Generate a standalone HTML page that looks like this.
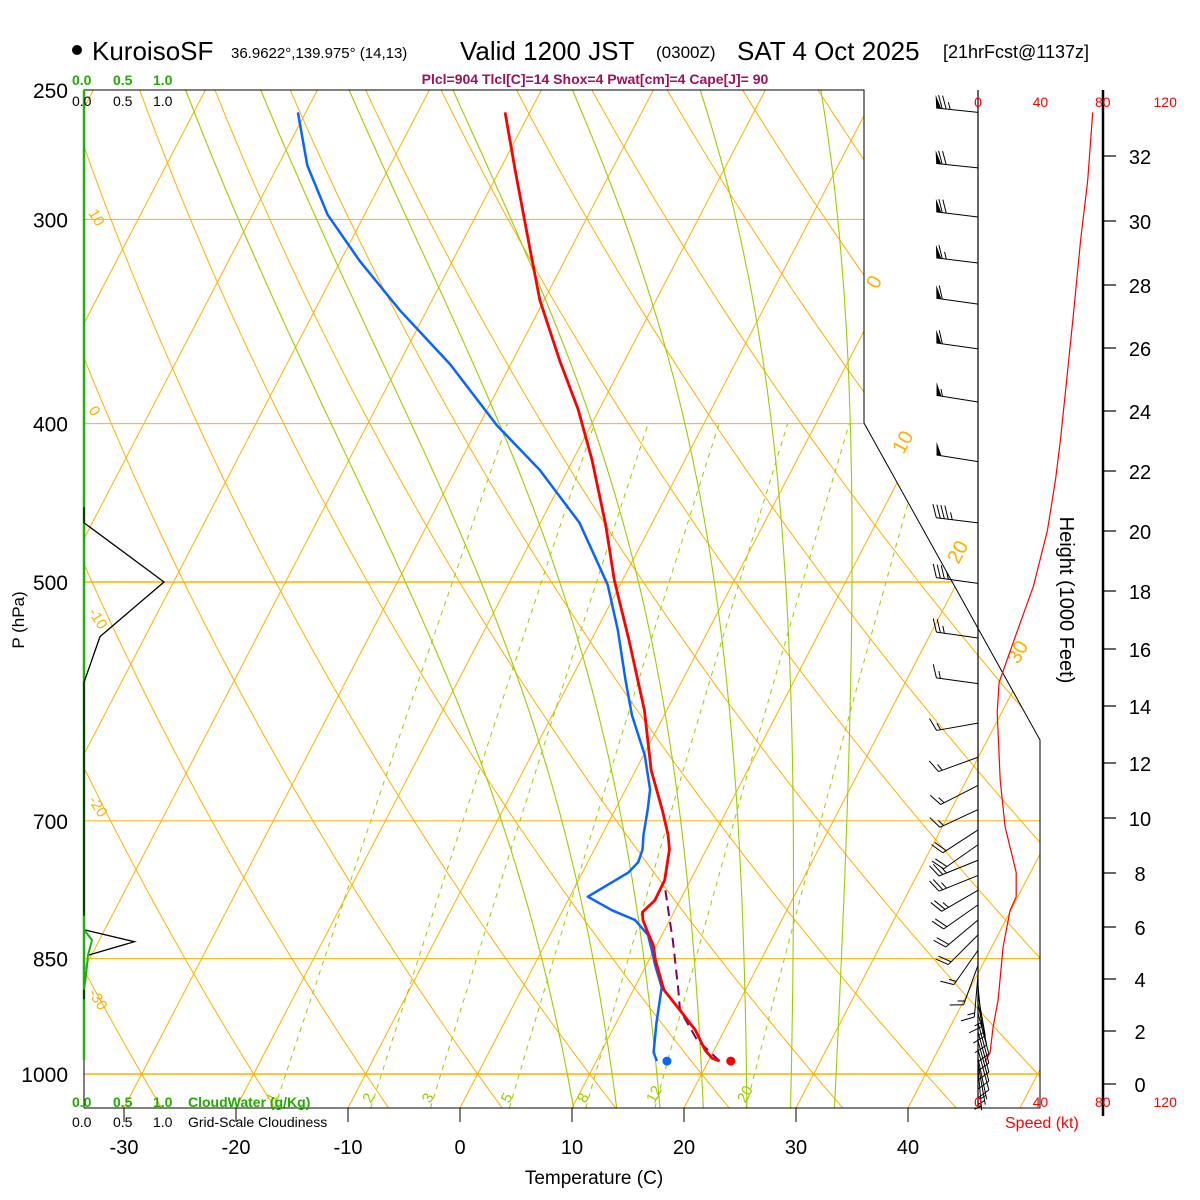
<!DOCTYPE html>
<html><head><meta charset="utf-8">
<style>
html,body{margin:0;padding:0;background:#fff;}
svg{display:block;font-family:"Liberation Sans",sans-serif;}
</style></head>
<body>
<svg id="chart" width="1200" height="1200" viewBox="0 0 1200 1200" xmlns="http://www.w3.org/2000/svg">
<defs>
<clipPath id="plotclip"><polygon points="84,90 864,90 864,423 1040,740 1040,1108 84,1108"/></clipPath>
</defs>
<g id="grid" clip-path="url(#plotclip)"></g>
<g id="gridlabels"></g>
<g id="frame">
<polyline points="84,1108 84,90 864,90 864,423 1040,740 1040,1108 84,1108" fill="none" stroke="#000" stroke-width="1"/>
<line x1="84" y1="90" x2="84" y2="1060" stroke="#22b010" stroke-width="2.5"/>
<line x1="978" y1="90" x2="978" y2="1108" stroke="#000" stroke-width="1.2"/>
<line x1="1103" y1="90" x2="1103" y2="1116" stroke="#000" stroke-width="2.5"/>
</g>
<g id="data"></g>
<g id="winds"></g>
<g id="axes"></g>
<g id="texts">
<circle cx="77" cy="50" r="5" fill="#000"/>
<text x="92" y="60" font-size="26">KuroisoSF</text>
<text x="231" y="58" font-size="15">36.9622°,139.975° (14,13)</text>
<text x="460" y="60" font-size="26">Valid 1200 JST</text>
<text x="656" y="58" font-size="17">(0300Z)</text>
<text x="737" y="60" font-size="26">SAT 4 Oct 2025</text>
<text x="943" y="58" font-size="18">[21hrFcst@1137z]</text>
<text x="595" y="84" font-size="14" font-weight="bold" fill="#a0105a" text-anchor="middle">Plcl=904 Tlcl[C]=14 Shox=4 Pwat[cm]=4 Cape[J]= 90</text>
<g font-size="14" font-weight="bold" fill="#22aa00">
<text x="72" y="85">0.0</text><text x="113" y="85">0.5</text><text x="153" y="85">1.0</text></g>
<g font-size="14" fill="#000">
<text x="72" y="106">0.0</text><text x="113" y="106">0.5</text><text x="153" y="106">1.0</text></g>
<g font-size="14" font-weight="bold" fill="#22aa00">
<text x="72" y="1107">0.0</text><text x="113" y="1107">0.5</text><text x="153" y="1107">1.0</text><text x="188" y="1107">CloudWater (g/Kg)</text></g>
<g font-size="14" fill="#000">
<text x="72" y="1127">0.0</text><text x="113" y="1127">0.5</text><text x="153" y="1127">1.0</text><text x="188" y="1127">Grid-Scale Cloudiness</text></g>
<text x="594" y="1184" font-size="19" text-anchor="middle">Temperature (C)</text>
<text transform="translate(24,620) rotate(-90)" font-size="17" text-anchor="middle">P (hPa)</text>
<text transform="translate(1060,600) rotate(90)" font-size="20" text-anchor="middle">Height (1000 Feet)</text>
<text x="1005" y="1128" font-size="16" fill="#f00">Speed (kt)</text>
</g>
</svg>
<script>
// ---- data ----
const tempP = [258,280,313,336,366,392,421,461,499,543,599,625,652,689,714,729,761,783,796,805,819,834,852,888,914,940,967,978,982];
const tempT = [-42.2,-38.6,-33.6,-30.4,-25.8,-21.9,-18.3,-14.1,-10.7,-6.6,-2.0,-0.3,1.4,4.2,5.9,6.7,7.7,7.75,7.2,7.6,8.6,9.7,10.6,12.7,15.1,17.4,19.2,20.2,21.0];
const dewP = [258,278,298,318,341,368,401,427,460,502,535,574,603,638,670,689,714,729,742,753,779,794,805,822,840,858,885,931,970,982];
const dewT = [-60.7,-57.4,-53.3,-48.3,-42.4,-35.4,-28.4,-22.5,-16.5,-11.1,-8.1,-5.1,-2.9,0.1,2.2,2.9,3.7,4.3,4.5,4.1,1.6,4.4,6.9,8.75,9.8,10.8,12.4,13.6,14.7,15.4];
const parcelP = [982,953,914,888,828,805,766];
const parcelT = [21.0,18.0,15.1,14.0,11.2,10.0,7.9];
const sfcP = 982, sfcT = 22.0, sfcTd = 16.3;
const speedP = [258,284,309,342,372,409,433,465,503,540,576,601,661,706,740,753,779,794,836,901,936,971,983];
const speedKt = [73.5,70.3,65.8,61.3,57.4,52.9,49.7,44.5,35.5,23.9,13.5,12.3,14.2,17.4,22.6,24.5,24.5,20.6,16.1,12.9,9.7,7.7,4.5];
const barbP = [258,279,299,319,338,360,388,422,460,501,541,577,610,640,666,689,709,724,740,756,772,788,805,822,840,858,870,882,894,906,918,930,942,954,966,978,985,992];
const barbDir = [276,276,277,277,278,278,279,279,277,278,278,278,260,250,243,245,237,235,248,248,240,235,230,225,215,200,185,175,170,168,165,165,165,165,165,168,170,175];
const cloudP = [450,460,500,540,576,600,800,816,830,846,888,900];
const cloudF = [0,0,1.0,0.2,0,0,0,0,0.63,0.05,0,0];
const cwP = [800,816,828,846,875,888];
const cwV = [0,0,0.1,0.05,0.02,0];
const tempTicks = [-30,-20,-10,0,10,20,30,40];
const presTicks = [250,300,400,500,700,850,1000];
const heightTicks = [0,2,4,6,8,10,12,14,16,18,20,22,24,26,28,30,32];
const speedTicks = [0,40,80,120];
const mixRatios = [1,2,3,5,8,12,20];
const thetaW = [8,12,16,20,24,28,32];
const thetaD = [-40,-30,-20,-10,0,10,20,30,40,50,60,70,80,90,100,110,120,130,140,150];

// ---- axes functions ----
const NS = "http://www.w3.org/2000/svg";
const Y = p => 1074 - 709.8*Math.log(1000/p);
const X = (T, y) => 460 + 11.2*T + 0.52*(1108 - y);
const XT = (T, p) => X(T, Y(p));
const SX = kt => 978 + 1.56*kt;
const CX = f => 84 + 80*f;
function mk(tag, attrs, parent){ const e=document.createElementNS(NS,tag); for(const k in attrs) e.setAttribute(k,attrs[k]); parent.appendChild(e); return e; }
const grid=document.getElementById('grid'), gl=document.getElementById('gridlabels'), data=document.getElementById('data'), winds=document.getElementById('winds'), axes=document.getElementById('axes');
const pts = (ps, ts) => ps.map((p,i)=>XT(ts[i],p).toFixed(1)+','+Y(p).toFixed(1)).join(' ');

// isobars
presTicks.forEach(p=>{
  const l=mk('line',{x1:84,x2:1100,y1:Y(p),y2:Y(p),stroke:'#ffb000','stroke-width':(p==500||p==1000)?1.4:1},grid);
  
  
});
// isotherms
for(let T=-120;T<=60;T+=10){
  const l=mk('line',{x1:X(T,1108),y1:1108,x2:X(T,90),y2:90,stroke:'#ffb000','stroke-width':1},grid);
  
  
}
// dry adiabats
const plist=[]; for(let p=1050;p>=250;p-=10) plist.push(p);
thetaD.forEach(th=>{
  const s=plist.map(p=>{const T=(th+273.15)*Math.pow(p/1000,0.2857)-273.15;return XT(T,p).toFixed(1)+','+Y(p).toFixed(1);}).join(' ');
  const l=mk('polyline',{points:s,fill:'none',stroke:'#ffb000','stroke-width':1},grid);
  
  
});
// moist adiabats
function dTdp(T,p){const Tc=T-273.15;const es=6.112*Math.exp(17.67*Tc/(Tc+243.5));const rs=0.622*es/(p-es);
  return (287*T+2.5e6*rs)/(1004+2.5e6*2.5e6*rs*0.622/(287*T*T))/p;}
thetaW.forEach(tw=>{
  const up=[]; let T=tw+273.15;
  for(let p=1000;p>=250;p-=5){up.push([p,T]); const k1=dTdp(T,p); const k2=dTdp(T-5*k1,p-5); T-=2.5*(k1+k2);}
  const dn=[]; T=tw+273.15;
  for(let p=1000;p<=1050;p+=5){dn.unshift([p,T]); const k1=dTdp(T,p); const k2=dTdp(T+5*k1,p+5); T+=2.5*(k1+k2);}
  const all=dn.concat(up.slice(1));
  const s=all.map(([p,T])=>XT(T-273.15,p).toFixed(1)+','+Y(p).toFixed(1)).join(' ');
  const l=mk('polyline',{points:s,fill:'none',stroke:'#9ccc00','stroke-width':1.1},grid);
  
  
});
// mixing ratio lines
const tdOf=(w,p)=>{const e=w/1000*p/(0.622+w/1000);const a=Math.log(e/6.112);return 243.5*a/(17.67-a);};
mixRatios.forEach(w=>{
  const ps=[]; for(let p=1049;p>=400;p-=10) ps.push(p); ps.push(400);
  const s=ps.map(p=>XT(tdOf(w,p),p).toFixed(1)+','+Y(p).toFixed(1)).join(' ');
  const l=mk('polyline',{points:s,fill:'none',stroke:'#9ccc00','stroke-width':1,'stroke-dasharray':'5,5'},grid);
  
  
  const p0=1040, x0=XT(tdOf(w,p0),p0), y0=Y(p0);
  const t=mk('text',{x:x0-2,y:y0+2,'font-size':15,fill:'#9ccc00',transform:`rotate(-62 ${x0-2} ${y0+2})`},gl);
  t.textContent=String(w);
  
  
});
// isotherm labels (right) and dry adiabat labels (left)
[[0,290],[10,455],[20,565],[30,665]].forEach(([T,y])=>{
  const x=X(T,y)-8;
  const t=mk('text',{x:x,y:y,'font-size':20,fill:'#ffb000',transform:`rotate(-62 ${x} ${y})`},gl);
  t.textContent=String(T);
  
  
});
[[10,213],[0,410],[-10,612],[-20,800],[-30,993]].forEach(([th,y])=>{
  const t=mk('text',{x:88,y:y,'font-size':15,fill:'#ffb000',transform:`rotate(58 88 ${y})`},gl);
  t.textContent=String(th);
  
  
});

// cloud panel
const cl=mk('polyline',{points:cloudP.map((p,i)=>CX(cloudF[i])+','+Y(p).toFixed(1)).join(' '),fill:'none',stroke:'#000','stroke-width':1.3},data);


const cw=mk('polyline',{points:cwP.map((p,i)=>CX(cwV[i])+','+Y(p).toFixed(1)).join(' '),fill:'none',stroke:'#22b010','stroke-width':2},data);



// profiles
const pc=mk('polyline',{points:pts(parcelP,parcelT),fill:'none',stroke:'#800060','stroke-width':2,'stroke-dasharray':'10,6'},data);


const dw=mk('polyline',{points:pts(dewP,dewT),fill:'none',stroke:'#0a64ff','stroke-width':2.5,'stroke-linejoin':'round'},data);


const tl=mk('polyline',{points:pts(tempP,tempT),fill:'none',stroke:'#f00','stroke-width':2.8,'stroke-linejoin':'round'},data);


const d1=mk('circle',{cx:XT(sfcT,sfcP),cy:Y(sfcP),r:4.5,fill:'#f00'},data);


const d2=mk('circle',{cx:XT(sfcTd,sfcP),cy:Y(sfcP),r:4.5,fill:'#0a64ff'},data);


const sp=mk('polyline',{points:speedP.map((p,i)=>SX(speedKt[i]).toFixed(1)+','+Y(p).toFixed(1)).join(' '),fill:'none',stroke:'#f00','stroke-width':1.2},data);



// wind barbs
function interpSpeed(p){for(let i=0;i<speedP.length-1;i++){if(p>=speedP[i]&&p<=speedP[i+1]){const f=(p-speedP[i])/(speedP[i+1]-speedP[i]);return speedKt[i]+f*(speedKt[i+1]-speedKt[i]);}} return p<speedP[0]?speedKt[0]:speedKt[speedKt.length-1];}
barbP.forEach((p,i)=>{
  const g=mk('g',{},winds);
  
  
  const d=barbDir[i]*Math.PI/180, vx=Math.sin(d), vy=-Math.cos(d), px=-vy, py=vx;
  const bx=978, by=Y(p), L=42;
  const ex=bx+vx*L, ey=by+vy*L;
  mk('line',{x1:bx,y1:by,x2:ex,y2:ey,stroke:'#000','stroke-width':1},g);
  let s=Math.round(interpSpeed(p)/5)*5; let pos=0;
  while(s>=50){const ax=ex-vx*pos, ay=ey-vy*pos;
    mk('polygon',{points:`${ax},${ay} ${ax+px*13+vx*2},${ay+py*13+vy*2} ${ax-vx*5},${ay-vy*5}`,fill:'#000'},g); pos+=6; s-=50;}
  while(s>=10){const ax=ex-vx*pos, ay=ey-vy*pos;
    mk('line',{x1:ax,y1:ay,x2:ax+px*13+vx*5,y2:ay+py*13+vy*5,stroke:'#000','stroke-width':1},g); pos+=4; s-=10;}
  if(s>=5){if(pos==0)pos=4; const ax=ex-vx*pos, ay=ey-vy*pos;
    mk('line',{x1:ax,y1:ay,x2:ax+px*7+vx*2.5,y2:ay+py*7+vy*2.5,stroke:'#000','stroke-width':1},g);}
});

// axes ticks & labels
tempTicks.forEach(T=>{
  const x=460+11.2*T;
  const l=mk('line',{x1:x,y1:1108,x2:x,y2:1122,stroke:'#000','stroke-width':1},axes);
  
  
  const t=mk('text',{x:x,y:1154,'font-size':20,'text-anchor':'middle'},axes);
  t.textContent=String(T);
  
  
});
presTicks.forEach(p=>{
  const t=mk('text',{x:68,y:Y(p)+8,'font-size':21,'text-anchor':'end'},axes);
  t.textContent=String(p);
  
  
});
const hYs=[1084,1031,979,927,873,818,763,706,649,591,531,471,411,348,285,221,156];
heightTicks.forEach((h,i)=>{
  const y=hYs[i];
  const l=mk('line',{x1:1103,y1:y,x2:1116,y2:y,stroke:'#000','stroke-width':1.2},axes);
  
  
  const t=mk('text',{x:1140,y:y+8,'font-size':20,'text-anchor':'middle'},axes);
  t.textContent=String(h);
  
  
});
speedTicks.forEach(k=>{
  [107,1107].forEach(y=>{
    const t=mk('text',{x:SX(k),y:y,'font-size':14,fill:'#f00','text-anchor':'middle'},axes);
    t.textContent=String(k);
    
    
  });
});
</script>
</body></html>
